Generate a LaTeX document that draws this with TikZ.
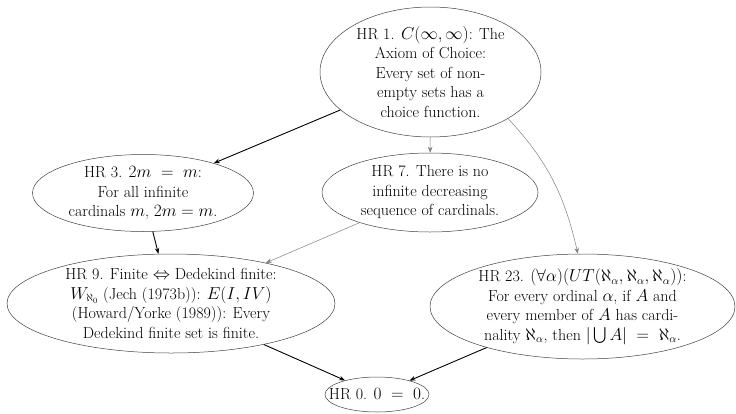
\documentclass[tikz,border=0pt]{standalone}
\usepackage{amsmath, amssymb}
\usepackage{tikz}
\usetikzlibrary{shapes.geometric, arrows.meta}

\newcommand{\hrfont}{\fontsize{16}{19.5}\selectfont}

\begin{document}
\begin{tikzpicture}[x=1pt, y=-1pt,
    hr/.style={ellipse, draw=black!75, line width=0.5pt, inner sep=0pt},
    every label/.style={align=center, font=\hrfont},
    strong/.style={-{Stealth[length=6pt, width=4.5pt]}, line width=0.9pt},
    weak/.style={-{Stealth[length=6pt, width=4.5pt]}, black!50, line width=0.5pt}
]
\useasboundingbox (0,0) rectangle (736,413);

% Top
\node[hr, minimum width=221pt, minimum height=130pt,
    label={center:HR 1. $C(\infty,\infty)$: The\\Axiom of Choice:\\Every set of non-\\empty sets has a\\choice function.}] (hr1) at (430.5,72) {};

% Middle row
\node[hr, minimum width=221pt, minimum height=77pt,
    label={center:HR 3. $2m\;=\;m$:\\For all infinite\\cardinals $m$, $2m = m$.}] (hr3) at (143,193) {};
\node[hr, minimum width=216pt, minimum height=79pt,
    label={center:HR 7. There is no\\infinite decreasing\\sequence of cardinals.}] (hr7) at (430,192.5) {};

% Lower row
\node[hr, minimum width=328pt, minimum height=99pt,
    label={center:HR 9. Finite $\Leftrightarrow$ Dedekind finite:\\$W_{\aleph_0}$ (Jech (1973b)): $E(I,IV)$\\(Howard/Yorke (1989)): Every\\Dedekind finite set is finite.}] (hr9) at (171,303.5) {};
\node[hr, minimum width=305pt, minimum height=105pt,
    label={center:HR 23. $(\forall\alpha)(UT(\aleph_\alpha,\aleph_\alpha,\aleph_\alpha))$:\\For every ordinal $\alpha$, if $A$ and\\every member of $A$ has cardi-\\nality $\aleph_\alpha$, then $|\bigcup A|\;=\;\aleph_\alpha$.}] (hr23) at (582.5,306.5) {};

% Bottom
\node[hr, minimum width=104pt, minimum height=35pt,
    label={center:HR 0. $0\;=\;0$.}] (hr0) at (377,394.5) {};

% Implications
\draw[strong] (hr1) -- (hr3);
\draw[weak] (hr1) -- (hr7);
\draw[weak] (hr1.-31) to[out=-47, in=103] (hr23.95);
\draw[strong] (hr3) -- (hr9);
\draw[weak] (hr7) -- (hr9);
\draw[strong] (hr9) -- (hr0);
\draw[strong] (hr23) -- (hr0);

\end{tikzpicture}
\end{document}
